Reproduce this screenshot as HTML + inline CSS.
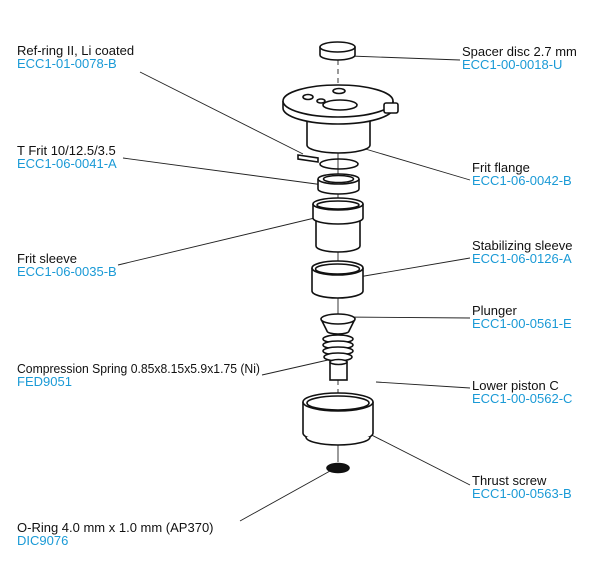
<!DOCTYPE html>
<html><head><meta charset="utf-8"><style>
html,body{margin:0;padding:0;background:#fff;}
svg{display:block;}
text{font-family:"Liberation Sans",sans-serif;font-size:13px;}
.b{fill:#1a9ad6;}
.k{fill:#111;}
</style></head><body>
<svg width="600" height="571" viewBox="0 0 600 571" xmlns="http://www.w3.org/2000/svg">
<g stroke="#222" stroke-width="0.9" fill="none">
<line x1="140" y1="72" x2="303" y2="154"/>
<line x1="123" y1="158" x2="346" y2="188"/>
<line x1="118" y1="265" x2="348" y2="210"/>
<line x1="262" y1="375" x2="328" y2="360"/>
<line x1="240" y1="521" x2="330" y2="471"/>
<line x1="350" y1="56" x2="460" y2="60"/>
<line x1="335" y1="140" x2="470" y2="180"/>
<line x1="335" y1="281" x2="470" y2="258"/>
<line x1="340" y1="317" x2="470" y2="318"/>
<line x1="376" y1="382" x2="470" y2="388"/>
<line x1="342" y1="420" x2="470" y2="485"/>
<line x1="338" y1="60" x2="338" y2="92" stroke-dasharray="5,4"/>
<line x1="338" y1="380" x2="338" y2="400" stroke-dasharray="5,4"/>
<line x1="338" y1="440" x2="338" y2="462"/>
<line x1="338" y1="150" x2="338" y2="200"/>
<line x1="338" y1="250" x2="338" y2="263"/>
<line x1="338" y1="297" x2="338" y2="318"/>
</g>
<g stroke="#111" stroke-width="1.6" fill="#fff">
<path d="M320 47 V55 A17.5 5 0 0 0 355 55 V47"/>
<ellipse cx="337.5" cy="47" rx="17.5" ry="5"/>
<path d="M307 118 V145 A31.5 8 0 0 0 370 145 V118"/>
<path d="M283 101 V108 A55 16 0 0 0 393 108 V101"/>
<ellipse cx="338" cy="101" rx="55" ry="16"/>
<ellipse cx="340" cy="105" rx="17" ry="5"/>
<ellipse cx="308" cy="97" rx="5" ry="2.5"/>
<ellipse cx="321" cy="101" rx="4" ry="2"/>
<ellipse cx="339" cy="91" rx="6" ry="2.5"/>
<rect x="384" y="103" width="14" height="10" rx="2"/>
<path d="M298 155 L318 158 L318 162 L298 159 Z"/>
<ellipse cx="339" cy="164" rx="19" ry="5" fill="none"/>
<path d="M318 179 V189 A20.5 5 0 0 0 359 189 V179"/>
<ellipse cx="338.5" cy="179" rx="20.5" ry="5"/>
<ellipse cx="338.5" cy="179" rx="15" ry="3.5"/>
<path d="M316 218 V246 A22 6 0 0 0 360 246 V218"/>
<path d="M313 204 V218 A25 6 0 0 0 363 218 V204"/>
<ellipse cx="338" cy="204" rx="25" ry="6"/>
<ellipse cx="338" cy="205" rx="21" ry="4"/>
<path d="M312 268 V291 A25.5 7 0 0 0 363 291 V268"/>
<ellipse cx="337.5" cy="268" rx="25.5" ry="7"/>
<ellipse cx="337.5" cy="269" rx="22" ry="5"/>
<path d="M321 319 L327 331 A11 3 0 0 0 349 331 L355 319"/>
<ellipse cx="338" cy="319" rx="17" ry="5"/>
<ellipse cx="338" cy="339" rx="15" ry="4"/>
<ellipse cx="338" cy="345" rx="15" ry="4"/>
<ellipse cx="338" cy="351" rx="15" ry="4"/>
<ellipse cx="338" cy="357" rx="14" ry="4"/>
<rect x="330" y="362" width="17" height="18"/>
<ellipse cx="338.5" cy="362" rx="8.5" ry="2.5"/>
<path d="M303 402 V433 A35 9 0 0 0 373 433 V402"/>
<path d="M306 437 A32 8 0 0 0 370 437"/>
<ellipse cx="338" cy="402" rx="35" ry="9"/>
<ellipse cx="338" cy="403" rx="31" ry="7"/>
<ellipse cx="338" cy="468" rx="11" ry="4.5" fill="#111"/>
</g>
<text x="17" y="55" class="k">Ref-ring II, Li coated</text>
<text x="17" y="68" class="b">ECC1-01-0078-B</text>
<text x="17" y="155" class="k">T Frit 10/12.5/3.5</text>
<text x="17" y="168" class="b">ECC1-06-0041-A</text>
<text x="17" y="263" class="k">Frit sleeve</text>
<text x="17" y="276" class="b">ECC1-06-0035-B</text>
<text x="17" y="373" class="k" textLength="243" lengthAdjust="spacingAndGlyphs">Compression Spring 0.85x8.15x5.9x1.75 (Ni)</text>
<text x="17" y="386" class="b">FED9051</text>
<text x="17" y="532" class="k">O-Ring 4.0 mm x 1.0 mm (AP370)</text>
<text x="17" y="545" class="b">DIC9076</text>
<text x="462" y="56" class="k">Spacer disc 2.7 mm</text>
<text x="462" y="69" class="b">ECC1-00-0018-U</text>
<text x="472" y="172" class="k">Frit flange</text>
<text x="472" y="185" class="b">ECC1-06-0042-B</text>
<text x="472" y="250" class="k">Stabilizing sleeve</text>
<text x="472" y="263" class="b">ECC1-06-0126-A</text>
<text x="472" y="315" class="k">Plunger</text>
<text x="472" y="328" class="b">ECC1-00-0561-E</text>
<text x="472" y="390" class="k">Lower piston C</text>
<text x="472" y="403" class="b">ECC1-00-0562-C</text>
<text x="472" y="485" class="k">Thrust screw</text>
<text x="472" y="498" class="b">ECC1-00-0563-B</text>
</svg>
</body></html>
